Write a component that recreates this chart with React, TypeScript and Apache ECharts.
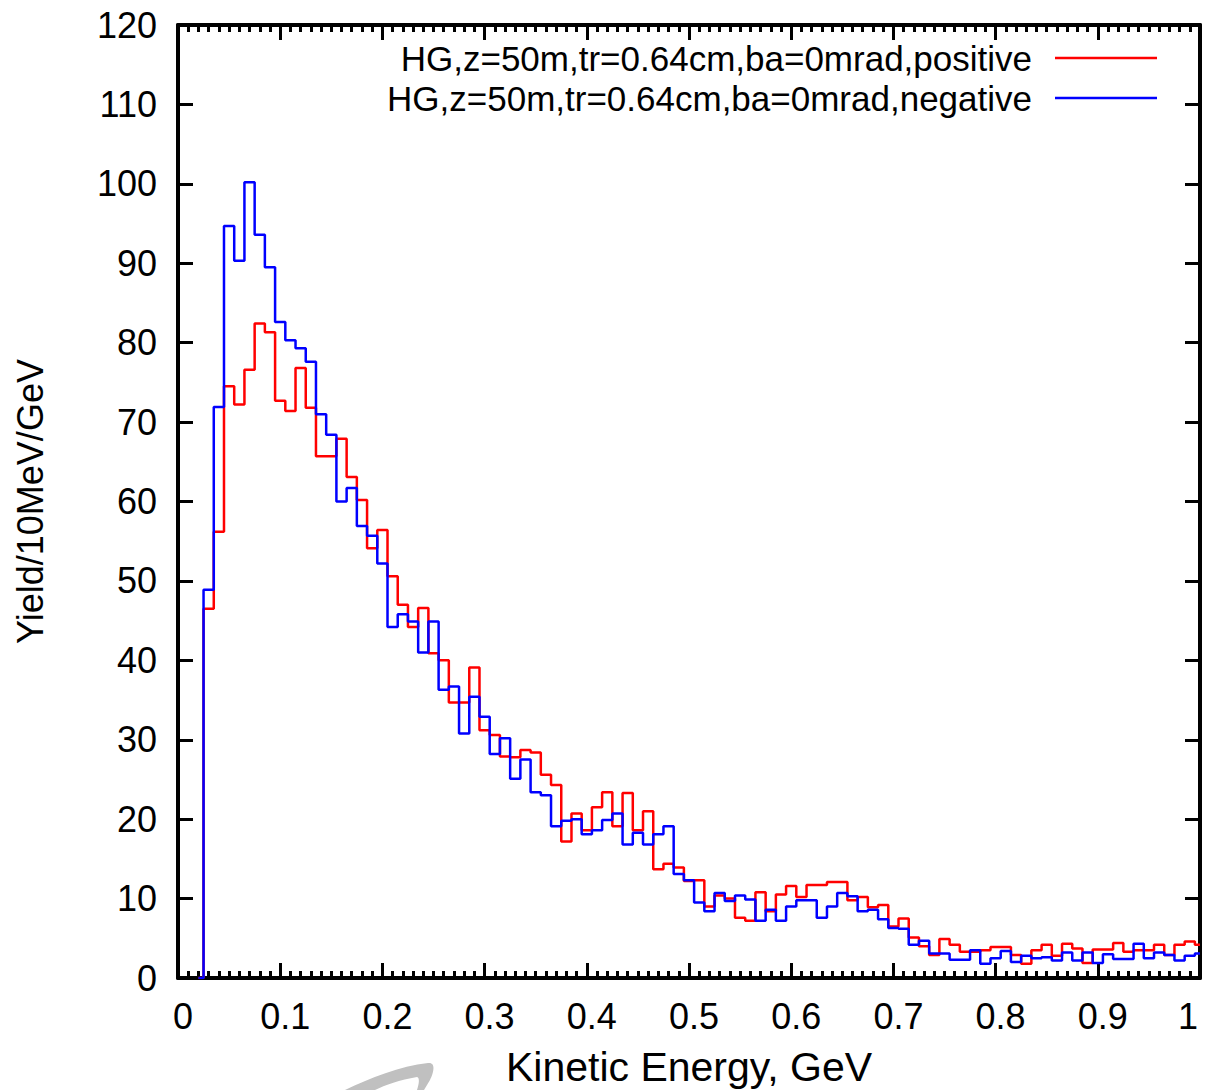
import React, { useEffect, useRef } from "react";
import * as echarts from "echarts";

// Bin centres (GeV), 10 MeV bins
const binCenters = [
  0.03, 0.04, 0.05, 0.06, 0.07, 0.08, 0.09, 0.10, 0.11, 0.12,
  0.13, 0.14, 0.15, 0.16, 0.17, 0.18, 0.19, 0.20, 0.21, 0.22,
  0.23, 0.24, 0.25, 0.26, 0.27, 0.28, 0.29, 0.30, 0.31, 0.32,
  0.33, 0.34, 0.35, 0.36, 0.37, 0.38, 0.39, 0.40, 0.41, 0.42,
  0.43, 0.44, 0.45, 0.46, 0.47, 0.48, 0.49, 0.50, 0.51, 0.52,
  0.53, 0.54, 0.55, 0.56, 0.57, 0.58, 0.59, 0.60, 0.61, 0.62,
  0.63, 0.64, 0.65, 0.66, 0.67, 0.68, 0.69, 0.70, 0.71, 0.72,
  0.73, 0.74, 0.75, 0.76, 0.77, 0.78, 0.79, 0.80, 0.81, 0.82,
  0.83, 0.84, 0.85, 0.86, 0.87, 0.88, 0.89, 0.90, 0.91, 0.92,
  0.93, 0.94, 0.95, 0.96, 0.97, 0.98, 0.99, 1.00,
];

const positive = [
  46.5, 56.2, 74.5, 72.2, 76.6, 82.4, 81.3, 72.7, 71.4, 76.8,
  71.8, 65.7, 65.7, 67.9, 63.1, 60.2, 54.1, 56.4, 50.6, 47.0,
  44.2, 46.6, 40.9, 40.0, 34.7, 34.7, 39.1, 31.2, 30.6, 27.9,
  27.8, 28.7, 28.4, 25.6, 24.3, 17.2, 20.7, 18.6, 21.5, 23.4,
  19.1, 23.3, 18.6, 21.0, 13.7, 14.4, 13.9, 12.2, 12.3, 9.0,
  10.4, 10.0, 7.6, 7.2, 10.8, 8.4, 10.5, 11.6, 10.2, 11.7,
  11.7, 12.1, 12.1, 9.8, 10.2, 8.9, 9.2, 6.5, 7.5, 5.1,
  4.0, 2.9, 4.9, 4.2, 3.3, 3.3, 3.5, 3.9, 3.9, 2.9,
  1.8, 3.5, 4.2, 2.8, 4.3, 3.7, 1.9, 3.6, 3.6, 4.4,
  3.3, 3.5, 3.5, 4.2, 2.9, 4.2, 4.6, 4.2,
];

const negative = [
  48.9, 71.9, 94.7, 90.3, 100.2, 93.6, 89.5, 82.6, 80.3, 79.3,
  77.6, 71.0, 68.4, 60.0, 61.7, 56.9, 55.7, 52.2, 44.2, 45.8,
  44.9, 41.0, 44.9, 36.3, 36.7, 30.8, 35.4, 32.9, 28.2, 30.2,
  25.1, 27.5, 23.4, 23.0, 19.1, 19.8, 20.0, 18.1, 18.6, 19.9,
  20.7, 16.8, 18.3, 16.8, 18.1, 19.1, 13.1, 12.3, 9.5, 8.4,
  10.7, 9.7, 10.4, 9.9, 7.2, 8.6, 7.2, 9.0, 9.8, 9.8,
  7.6, 9.0, 10.7, 10.3, 8.4, 8.6, 7.4, 6.3, 6.2, 4.2,
  4.7, 3.1, 3.1, 2.3, 2.3, 3.5, 1.8, 2.5, 3.4, 2.0,
  2.8, 2.5, 2.6, 2.2, 3.2, 2.2, 3.2, 1.9, 3.0, 2.4,
  2.4, 4.3, 2.5, 3.2, 2.9, 2.2, 2.8, 3.1,
];

// the histogram rises from zero at the first bin edge
const leadIn: [number, number] = [0.02, 0];

const xTickLabels = ["0", "0.1", "0.2", "0.3", "0.4", "0.5", "0.6", "0.7", "0.8", "0.9", "1"];
const yTickLabels = ["0", "10", "20", "30", "40", "50", "60", "70", "80", "90", "100", "110", "120"];

const seriesNames = [
  "HG,z=50m,tr=0.64cm,ba=0mrad,positive",
  "HG,z=50m,tr=0.64cm,ba=0mrad,negative",
];
const seriesColors = ["#ff0000", "#0000ff"];

const FONT = '"Liberation Sans", Arial, sans-serif';

const logoPath =
  "M345,1090 C370,1078 400,1066 428,1063 C436,1062 434,1072 430,1080 L424,1090 L417,1090 C419,1084 420,1078 417,1077 C400,1080 385,1085 375,1090 Z";

let registered = false;
function registerLogo() {
  if (registered) return;
  echarts.graphic.registerShape("logo", echarts.graphic.extendPath(logoPath, {}));
  registered = true;
}

export default function App() {
  const ref = useRef<HTMLDivElement>(null);

  useEffect(() => {
    if (!ref.current) return;
    registerLogo();
    const chart = echarts.init(ref.current, undefined, { renderer: "svg" });

    const toPairs = (vals: number[]) => [leadIn, ...vals.map((v, i) => [binCenters[i], v])];

    const xCommon = {
      type: "value",
      min: 0,
      max: 1,
      interval: 0.1,
      axisLine: { show: true, onZero: false, lineStyle: { color: "#000", width: 4 } },
      axisTick: { show: true, inside: true, length: 15, lineStyle: { color: "#000", width: 3 } },
      minorTick: { show: true, splitNumber: 10, length: 7, lineStyle: { color: "#000", width: 3 } },
      splitLine: { show: false },
      minorSplitLine: { show: false },
    };
    const yCommon = {
      type: "value",
      min: 0,
      max: 120,
      interval: 10,
      axisLine: { show: true, onZero: false, lineStyle: { color: "#000", width: 4 } },
      axisTick: { show: true, inside: true, length: 15, lineStyle: { color: "#000", width: 3 } },
      splitLine: { show: false },
    };

    const legendRows = [58, 98];

    const legendText = (text: string, y: number) => ({
      type: "text",
      x: 1032,
      y,
      style: {
        text,
        fontFamily: FONT,
        fontSize: 35,
        lineHeight: 35,
        fill: "#000",
        align: "right",
        verticalAlign: "middle",
      },
    });
    const legendLine = (color: string, y: number) => ({
      type: "line",
      shape: { x1: 1055, y1: y, x2: 1157, y2: y },
      style: { stroke: color, lineWidth: 2.5 },
    });

    const tickFont = { fontFamily: FONT, fontSize: 36, color: "#000" };

    chart.setOption({
      animation: false,
      backgroundColor: "#ffffff",
      grid: {
        left: 178,
        top: 25,
        width: 1022,
        height: 953,
        containLabel: false,
        outerBoundsMode: "none",
      },
      xAxis: [
        {
          ...xCommon,
          position: "bottom",
          name: "Kinetic Energy, GeV",
          nameLocation: "middle",
          nameGap: 68,
          nameTextStyle: { fontFamily: FONT, fontSize: 41, color: "#000" },
          axisLabel: {
            show: true,
            margin: 20,
            ...tickFont,
            alignMaxLabel: "right",
            formatter: (v: number) => {
              const i = Math.round(v * 10);
              return i === xTickLabels.length - 1 ? `{e|${xTickLabels[i]}}` : `{s|${xTickLabels[i]}}`;
            },
            rich: {
              s: { ...tickFont, padding: [0, 0, 0, 10] },
              e: { ...tickFont, padding: [0, 2, 0, 0] },
            },
          },
        },
        { ...xCommon, position: "top", axisLabel: { show: false } },
      ],
      yAxis: [
        {
          ...yCommon,
          position: "left",
          name: "Yield/10MeV/GeV",
          nameLocation: "middle",
          nameGap: 130,
          nameRotate: 90,
          nameTextStyle: { fontFamily: FONT, fontSize: 36, color: "#000" },
          axisLabel: {
            show: true,
            margin: 21,
            ...tickFont,
            formatter: (v: number) => yTickLabels[Math.round(v / 10)],
          },
        },
        { ...yCommon, position: "right", axisLabel: { show: false } },
      ],
      series: [
        {
          name: seriesNames[0],
          type: "line",
          step: "middle",
          xAxisIndex: 0,
          yAxisIndex: 0,
          symbol: "none",
          data: toPairs(positive),
          lineStyle: { color: seriesColors[0], width: 2.5 },
          itemStyle: { color: seriesColors[0] },
          z: 2,
        },
        {
          name: seriesNames[1],
          type: "line",
          step: "middle",
          xAxisIndex: 0,
          yAxisIndex: 0,
          symbol: "none",
          data: toPairs(negative),
          lineStyle: { color: seriesColors[1], width: 2.5 },
          itemStyle: { color: seriesColors[1] },
          z: 3,
        },
      ],
      graphic: [
        legendText(seriesNames[0], legendRows[0]),
        legendLine(seriesColors[0], legendRows[0]),
        legendText(seriesNames[1], legendRows[1]),
        legendLine(seriesColors[1], legendRows[1]),
        {
          type: "logo",
          x: 0,
          y: 0,
          z: -1,
          style: { fill: "#c0c0c0" },
        },
      ],
    });

    return () => chart.dispose();
  }, []);

  return (
    <div
      ref={ref}
      style={{ position: "absolute", left: 0, top: 0, width: 1208, height: 1090, background: "#fff" }}
    />
  );
}
